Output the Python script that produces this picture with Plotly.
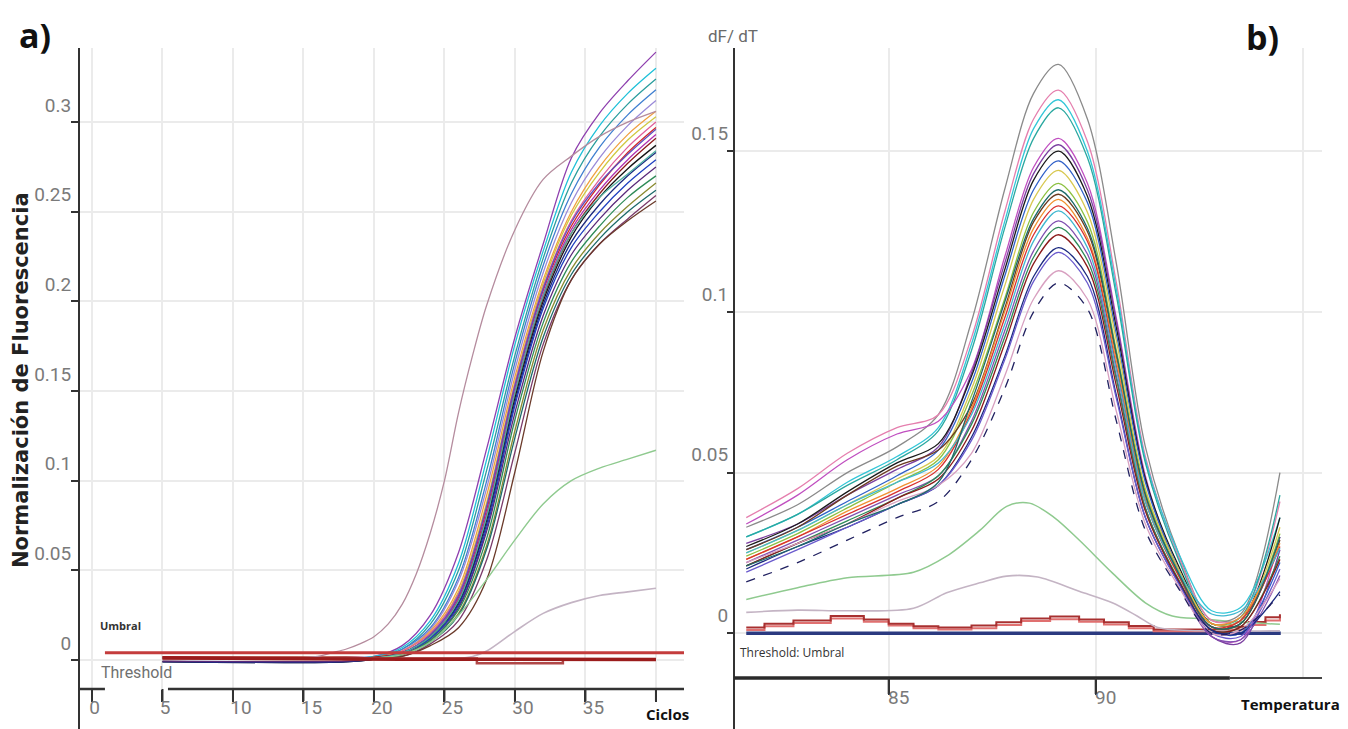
import plotly.graph_objects as go

# ---------------- Panel a) amplification curves ----------------
AMP_CYCLES = [5, 18, 20, 22, 24, 26, 28, 30, 32, 34, 36, 38, 40]
A01 = [0.0015, 0.0015, 0.002, 0.008, 0.025, 0.060, 0.118, 0.180, 0.232, 0.280, 0.305, 0.323, 0.339]
A02 = [0.0012, 0.0012, 0.002, 0.007, 0.022, 0.054, 0.112, 0.176, 0.228, 0.272, 0.298, 0.316, 0.330]
A03 = [0.0010, 0.0010, 0.0015, 0.006, 0.020, 0.050, 0.106, 0.170, 0.224, 0.266, 0.292, 0.310, 0.324]
A04 = [0.0012, 0.0012, 0.0015, 0.006, 0.018, 0.046, 0.100, 0.166, 0.220, 0.260, 0.286, 0.304, 0.318]
A05 = [0.0008, 0.0008, 0.001, 0.005, 0.017, 0.044, 0.096, 0.162, 0.216, 0.255, 0.280, 0.298, 0.312]
A06 = [0.0014, 0.0014, 0.0015, 0.005, 0.016, 0.040, 0.092, 0.158, 0.212, 0.250, 0.275, 0.293, 0.306]
A07 = [-0.0008, -0.0008, 0.0005, 0.005, 0.015, 0.038, 0.088, 0.155, 0.210, 0.248, 0.272, 0.290, 0.303]
A08 = [-0.0008, -0.0008, 0.0005, 0.005, 0.015, 0.037, 0.086, 0.154, 0.208, 0.245, 0.268, 0.286, 0.300]
A09 = [0.0015, 0.0015, 0.0015, 0.004, 0.014, 0.035, 0.084, 0.152, 0.206, 0.242, 0.265, 0.283, 0.297]
A10 = [0.0010, 0.0010, 0.001, 0.004, 0.014, 0.034, 0.082, 0.150, 0.204, 0.240, 0.262, 0.279, 0.293]
A11 = [0.0016, 0.0016, 0.0015, 0.004, 0.013, 0.033, 0.080, 0.148, 0.202, 0.238, 0.260, 0.277, 0.291]
A12 = [-0.0010, -0.0010, 0.0005, 0.004, 0.013, 0.032, 0.078, 0.146, 0.200, 0.236, 0.258, 0.274, 0.287]
A13 = [-0.0010, -0.0010, 0.0005, 0.004, 0.012, 0.031, 0.076, 0.144, 0.198, 0.233, 0.254, 0.270, 0.283]
A14 = [0.0010, 0.0010, 0.001, 0.003, 0.012, 0.030, 0.074, 0.142, 0.196, 0.230, 0.250, 0.266, 0.279]
A15 = [-0.0006, -0.0006, 0.0005, 0.003, 0.011, 0.029, 0.072, 0.138, 0.192, 0.226, 0.246, 0.262, 0.275]
A16 = [0.0012, 0.0012, 0.001, 0.003, 0.011, 0.028, 0.068, 0.134, 0.188, 0.222, 0.242, 0.258, 0.270]
A17 = [0.0010, 0.0010, 0.001, 0.003, 0.010, 0.026, 0.064, 0.128, 0.184, 0.218, 0.238, 0.253, 0.266]
A18 = [0.0012, 0.0012, 0.001, 0.003, 0.010, 0.025, 0.062, 0.124, 0.180, 0.215, 0.235, 0.250, 0.262]
A19 = [0.0010, 0.0010, 0.001, 0.002, 0.009, 0.022, 0.056, 0.116, 0.176, 0.212, 0.232, 0.246, 0.259]
A20 = [0.0012, 0.0012, 0.001, 0.002, 0.008, 0.018, 0.045, 0.105, 0.172, 0.212, 0.232, 0.245, 0.256]
A21 = [0.0010, 0.0010, 0.001, 0.004, 0.014, 0.036, 0.086, 0.153, 0.207, 0.244, 0.266, 0.282, 0.296]
A22 = [0.0010, 0.0010, 0.001, 0.004, 0.013, 0.033, 0.080, 0.149, 0.203, 0.238, 0.258, 0.271, 0.284]

EARLY_CYCLES = [5, 14, 16, 17, 18, 19, 20, 21, 22, 23, 24, 25, 26, 27, 28, 30, 32, 34, 36, 38, 40]
EARLY_VALUES = [0.001, 0.001, 0.002, 0.004, 0.006, 0.009, 0.013, 0.020, 0.031, 0.048, 0.071, 0.100, 0.138, 0.170, 0.198,
                0.240, 0.268, 0.281, 0.292, 0.300, 0.306]

LATE_GREEN_CYCLES = [5, 20, 22, 24, 26, 28, 30, 32, 34, 36, 38, 40]
LATE_GREEN_VALUES = [0.001, 0.001, 0.003, 0.010, 0.025, 0.045, 0.067, 0.087, 0.100, 0.107, 0.112, 0.117]

LATE_GRAY_CYCLES = [5, 26, 27, 28, 30, 32, 34, 36, 38, 40]
LATE_GRAY_VALUES = [0.001, 0.001, 0.002, 0.005, 0.016, 0.026, 0.032, 0.036, 0.038, 0.040]

NTC1_CYCLES = [5, 22, 40]
NTC1_VALUES = [0.0012, 0.0004, 0.0003]
NTC2_CYCLES = [5, 27.3, 33.4, 40]
NTC2_VALUES = [0.0008, -0.0018, 0.0002, 0.0002]

THRESHOLD_A = 0.004
THRESHOLD_A_CYCLES = [0.92, 41.99]

A_XTICKS = [0, 5, 10, 15, 20, 25, 30, 35, 40]
A_XTICKTEXT = ["0\u2007", "5\u2007", "10", "15", "20", "25", "30", "35", ""]
A_YTICKS = [0, 0.05, 0.1, 0.15, 0.2, 0.25, 0.3]
A_YTICKTEXT = ["0", "0.05", "0.1", "0.15", "0.2", "0.25", "0.3"]

# ---------------- Panel b) melt curves ----------------
MELT_TEMPS = [81.56, 82.8, 84.0, 85.2, 86.2, 87.0, 87.8, 88.5, 89.1, 89.8, 90.5, 91.2, 92.0, 92.8, 93.5, 94.45]
M01 = [0.033, 0.040, 0.050, 0.058, 0.068, 0.097, 0.138, 0.168, 0.177, 0.160, 0.115, 0.058, 0.025, 0.004, 0.006, 0.050]
M02 = [0.036, 0.045, 0.056, 0.064, 0.068, 0.092, 0.131, 0.160, 0.169, 0.153, 0.109, 0.055, 0.024, 0.004, 0.005, 0.041]
M03 = [0.030, 0.037, 0.047, 0.055, 0.064, 0.090, 0.128, 0.157, 0.166, 0.150, 0.107, 0.054, 0.025, 0.007, 0.008, 0.036]
M04 = [0.030, 0.037, 0.046, 0.054, 0.063, 0.088, 0.126, 0.154, 0.1635, 0.148, 0.105, 0.053, 0.023, 0.003, 0.005, 0.043]
M05 = [0.034, 0.043, 0.054, 0.062, 0.066, 0.082, 0.117, 0.145, 0.154, 0.140, 0.098, 0.049, 0.019, -0.001, -0.002, 0.030]
M06 = [0.028, 0.034, 0.043, 0.051, 0.058, 0.081, 0.115, 0.143, 0.152, 0.138, 0.097, 0.048, 0.019, -0.001, -0.003, 0.026]
M07 = [0.027, 0.034, 0.044, 0.053, 0.059, 0.080, 0.113, 0.141, 0.150, 0.136, 0.095, 0.048, 0.021, 0.003, 0.004, 0.036]
M08 = [0.026, 0.033, 0.041, 0.049, 0.057, 0.078, 0.111, 0.138, 0.147, 0.134, 0.093, 0.047, 0.020, 0.001, 0.000, 0.022]
M09 = [0.025, 0.032, 0.040, 0.048, 0.055, 0.076, 0.108, 0.135, 0.144, 0.131, 0.091, 0.045, 0.020, 0.003, 0.004, 0.033]
M10 = [0.024, 0.031, 0.039, 0.047, 0.054, 0.074, 0.104, 0.131, 0.140, 0.128, 0.088, 0.044, 0.019, 0.002, 0.003, 0.031]
M11 = [0.026, 0.033, 0.043, 0.052, 0.057, 0.071, 0.101, 0.128, 0.1366, 0.125, 0.086, 0.043, 0.0185, 0.002, 0.003, 0.029]
M12 = [0.023, 0.030, 0.038, 0.045, 0.052, 0.070, 0.100, 0.126, 0.135, 0.123, 0.085, 0.042, 0.018, 0.003, 0.005, 0.028]
M13 = [0.023, 0.030, 0.037, 0.044, 0.051, 0.069, 0.098, 0.124, 0.133, 0.122, 0.083, 0.041, 0.018, 0.002, 0.004, 0.027]
M14 = [0.025, 0.032, 0.040, 0.047, 0.053, 0.068, 0.096, 0.122, 0.1314, 0.120, 0.082, 0.041, 0.019, 0.006, 0.007, 0.0265]
M15 = [0.022, 0.029, 0.036, 0.043, 0.049, 0.066, 0.094, 0.119, 0.1283, 0.118, 0.080, 0.039, 0.016, -0.001, -0.002, 0.018]
M16 = [0.021, 0.028, 0.035, 0.042, 0.049, 0.065, 0.092, 0.117, 0.1263, 0.116, 0.079, 0.039, 0.0168, 0.001, 0.002, 0.024]
M17 = [0.021, 0.028, 0.034, 0.042, 0.048, 0.063, 0.090, 0.115, 0.124, 0.114, 0.077, 0.038, 0.0164, 0.001, 0.002, 0.023]
M18 = [0.020, 0.027, 0.033, 0.040, 0.046, 0.061, 0.086, 0.111, 0.120, 0.111, 0.074, 0.036, 0.0158, 0.001, 0.000, 0.013]
M19 = [0.019, 0.026, 0.033, 0.040, 0.046, 0.060, 0.085, 0.1095, 0.1185, 0.109, 0.073, 0.036, 0.0155, 0.000, -0.001, 0.020]
M20 = [0.022, 0.028, 0.034, 0.041, 0.046, 0.056, 0.080, 0.104, 0.1128, 0.104, 0.069, 0.034, 0.0146, 0.000, 0.001, 0.017]
M21 = [0.016, 0.022, 0.029, 0.036, 0.041, 0.054, 0.076, 0.100, 0.109, 0.101, 0.066, 0.032, 0.014, 0.000, 0.001, 0.012]
M22 = [0.021, 0.027, 0.034, 0.040, 0.047, 0.072, 0.103, 0.129, 0.138, 0.126, 0.087, 0.043, 0.0187, 0.002, 0.003, 0.030]

MELT_GREEN_TEMPS = [81.56, 82.8, 84.0, 85.6, 86.4, 87.2, 87.85, 88.4, 89.0, 89.6, 90.4, 91.2, 91.85, 92.6, 93.5, 94.45]
MELT_GREEN_VALUES = [0.0105, 0.0142, 0.0173, 0.019, 0.024, 0.032, 0.0395, 0.0405, 0.036, 0.029, 0.0188, 0.0095,
                     0.0054, 0.0045, 0.0035, 0.0028]

MELT_GRAY_TEMPS = [81.56, 82.8, 84.0, 85.6, 86.4, 87.2, 87.85, 88.6, 89.6, 90.4, 91.0, 91.5, 92.5, 94.45]
MELT_GRAY_VALUES = [0.0065, 0.0072, 0.0070, 0.0078, 0.0126, 0.0157, 0.0178, 0.0175, 0.0131, 0.0095, 0.0054,
                    0.0018, 0.0008, 0.0008]

MELT_NTC_TEMPS = [81.56, 82.0, 82.7, 83.6, 84.4, 85.0, 85.6, 86.2, 87.0, 87.6, 88.2, 88.9, 89.6, 90.2, 90.8,
                  91.4, 93.2, 93.7, 94.1, 94.45]
MELT_NTC1_VALUES = [0.0018, 0.0030, 0.0040, 0.0054, 0.0043, 0.0030, 0.0022, 0.0018, 0.0024, 0.0034, 0.0046,
                    0.0052, 0.0043, 0.0034, 0.0023, 0.0012, 0.0020, 0.0035, 0.0050, 0.0059]
MELT_NTC2_VALUES = [0.0010, 0.0022, 0.0032, 0.0046, 0.0036, 0.0024, 0.0016, 0.0012, 0.0016, 0.0026, 0.0038,
                    0.0044, 0.0036, 0.0027, 0.0016, 0.0006, 0.0012, 0.0026, 0.0040, 0.0048]

THRESHOLD_B = 0.0
THRESHOLD_B_TEMPS = [81.56, 94.47]

B_XTICKS = [85, 90]
B_XTICKTEXT = ["85", "90"]
B_YTICKS = [0, 0.05, 0.1, 0.15]
B_YTICKTEXT = ["0", "0.05", "0.1", "0.15"]

# ---------------- styles ----------------
AMP_SAMPLES = [A01, A02, A03, A04, A05, A06, A07, A08, A09, A10, A11,
               A12, A13, A14, A15, A16, A17, A18, A19, A20, A21, A22]
AMP_COLORS = ["#8e3fae", "#1ec0d8", "#2a9d9d", "#3f7fd0", "#9a8ad8", "#f0a040", "#d0c840", "#e0609a",
              "#d02828", "#b030b0", "#8b1a1a", "#151515", "#1c2a80", "#2040c0", "#5a2a7a", "#2e8b57",
              "#8a8a30", "#1d6a6a", "#7a3a6a", "#6b3a2a", "#6050c0", "#50b0a0"]
MELT_SAMPLES = [M01, M02, M03, M04, M05, M06, M07, M08, M09, M10, M11,
                M12, M13, M14, M15, M16, M17, M18, M19, M20, M21, M22]
MELT_COLORS = ["#8a8a8a", "#e57fae", "#33c6d8", "#2aa8a0", "#c04fc0", "#7b3fa0", "#1a1a1a", "#3060c8",
               "#d8c850", "#8cc040", "#6b3a20", "#f09030", "#d83030", "#40b8d0", "#8050b0", "#2e8b57",
               "#8b1a1a", "#1c2a80", "#6a5acd", "#d8a0c0", "#202060", "#1d6a6a"]
MELT_DASH = ["solid"] * 20 + ["dash", "solid"]

NARROW = "Roboto, Liberation Sans, sans-serif"
LABEL_FONT = "Open Sans, Noto Sans, Liberation Sans, sans-serif"
GRID = "#ebebeb"
AXIS = "#333333"

fig = go.Figure()

# panel a traces
for vals, col in zip(AMP_SAMPLES, AMP_COLORS):
    fig.add_trace(go.Scatter(x=AMP_CYCLES, y=vals, mode="lines", xaxis="x", yaxis="y",
                             line=dict(color=col, width=1.3, shape="spline", smoothing=0.9),
                             hoverinfo="skip", showlegend=False))
fig.add_trace(go.Scatter(x=EARLY_CYCLES, y=EARLY_VALUES, mode="lines", xaxis="x", yaxis="y",
                         line=dict(color="#b58c9e", width=1.3, shape="spline", smoothing=0.9),
                         hoverinfo="skip", showlegend=False))
fig.add_trace(go.Scatter(x=LATE_GREEN_CYCLES, y=LATE_GREEN_VALUES, mode="lines", xaxis="x", yaxis="y",
                         line=dict(color="#8fca8f", width=1.4, shape="spline", smoothing=0.9),
                         hoverinfo="skip", showlegend=False))
fig.add_trace(go.Scatter(x=LATE_GRAY_CYCLES, y=LATE_GRAY_VALUES, mode="lines", xaxis="x", yaxis="y",
                         line=dict(color="#c4b4c4", width=1.6, shape="spline", smoothing=0.9),
                         hoverinfo="skip", showlegend=False))
fig.add_trace(go.Scatter(x=NTC2_CYCLES, y=NTC2_VALUES, mode="lines", xaxis="x", yaxis="y",
                         line=dict(color="#b04848", width=2.5, shape="hv"), hoverinfo="skip", showlegend=False))
fig.add_trace(go.Scatter(x=NTC1_CYCLES, y=NTC1_VALUES, mode="lines", xaxis="x", yaxis="y",
                         line=dict(color="#9b1c1c", width=3.5), hoverinfo="skip", showlegend=False))
fig.add_trace(go.Scatter(x=THRESHOLD_A_CYCLES, y=[THRESHOLD_A] * len(THRESHOLD_A_CYCLES), mode="lines",
                         xaxis="x", yaxis="y", line=dict(color="#c43c3c", width=3),
                         hoverinfo="skip", showlegend=False))

# panel b traces
fig.add_trace(go.Scatter(x=THRESHOLD_B_TEMPS, y=[THRESHOLD_B] * len(THRESHOLD_B_TEMPS), mode="lines",
                         xaxis="x2", yaxis="y2", line=dict(color="#2b3a80", width=3.5),
                         hoverinfo="skip", showlegend=False))
fig.add_trace(go.Scatter(x=MELT_NTC_TEMPS, y=MELT_NTC2_VALUES, mode="lines", xaxis="x2", yaxis="y2",
                         line=dict(color="#e07070", width=2, shape="hv"), hoverinfo="skip", showlegend=False))
fig.add_trace(go.Scatter(x=MELT_NTC_TEMPS, y=MELT_NTC1_VALUES, mode="lines", xaxis="x2", yaxis="y2",
                         line=dict(color="#a83030", width=2, shape="hv"), hoverinfo="skip", showlegend=False))
fig.add_trace(go.Scatter(x=MELT_GRAY_TEMPS, y=MELT_GRAY_VALUES, mode="lines", xaxis="x2", yaxis="y2",
                         line=dict(color="#c4b4c4", width=1.6, shape="spline", smoothing=0.9),
                         hoverinfo="skip", showlegend=False))
fig.add_trace(go.Scatter(x=MELT_GREEN_TEMPS, y=MELT_GREEN_VALUES, mode="lines", xaxis="x2", yaxis="y2",
                         line=dict(color="#8fca8f", width=1.5, shape="spline", smoothing=0.9),
                         hoverinfo="skip", showlegend=False))
for vals, col, dsh in zip(MELT_SAMPLES, MELT_COLORS, MELT_DASH):
    fig.add_trace(go.Scatter(x=MELT_TEMPS, y=vals, mode="lines", xaxis="x2", yaxis="y2",
                             line=dict(color=col, width=1.3, shape="spline", smoothing=0.9, dash=dsh),
                             hoverinfo="skip", showlegend=False))

W, H = 1348, 729
A_LEFT, A_RIGHT, A_BOTTOM, TOP = 79, 684, 689, 48
B_LEFT, B_RIGHT, B_BOTTOM = 734, 1322, 678

tickfont = dict(family=NARROW, size=19, color="#7a7a7a")

fig.update_layout(
    width=W, height=H, margin=dict(l=0, r=0, t=0, b=0),
    paper_bgcolor="white", plot_bgcolor="white", showlegend=False,
    xaxis=dict(domain=[A_LEFT / W, A_RIGHT / W], range=[-0.92, 41.99], anchor="y",
               tickmode="array", tickvals=A_XTICKS, ticktext=A_XTICKTEXT,
               ticks="outside", ticklen=12, tickwidth=2, tickcolor=AXIS,
               showgrid=True, gridcolor=GRID, gridwidth=2, zeroline=False, showline=False,
               tickfont=tickfont, ticklabelshift=8, ticklabelstandoff=-11),
    yaxis=dict(domain=[1 - A_BOTTOM / H, 1 - TOP / H], range=[-0.01617, 0.3413], anchor="x",
               tickmode="array", tickvals=A_YTICKS, ticktext=A_YTICKTEXT,
               ticks="outside", ticklen=7, tickwidth=2, tickcolor=AXIS,
               showgrid=True, gridcolor=GRID, gridwidth=2, zeroline=False, showline=False,
               tickfont=tickfont, ticklabelshift=-17, ticklabelstandoff=-4),
    xaxis2=dict(domain=[B_LEFT / W, B_RIGHT / W], range=[81.264, 95.466], anchor="y2",
                tickmode="array", tickvals=B_XTICKS, ticktext=B_XTICKTEXT,
                ticks="outside", ticklen=16, tickwidth=2, tickcolor=AXIS,
                showgrid=True, gridcolor=GRID, gridwidth=2, zeroline=False, showline=False,
                minor=dict(tickvals=[95], showgrid=True, gridcolor=GRID, gridwidth=2, ticks=""),
                tickfont=tickfont, ticklabelshift=10, ticklabelstandoff=-14),
    yaxis2=dict(domain=[1 - B_BOTTOM / H, 1 - TOP / H], range=[-0.01391, 0.1821], anchor="x2",
                tickmode="array", tickvals=B_YTICKS, ticktext=B_YTICKTEXT,
                ticks="outside", ticklen=6, tickwidth=2, tickcolor=AXIS,
                showgrid=True, gridcolor=GRID, gridwidth=2, zeroline=False, showline=False,
                tickfont=tickfont, ticklabelshift=-18, ticklabelstandoff=-5),
)

shapes = [
    dict(type="line", xref="paper", yref="paper", x0=A_LEFT / W, x1=A_LEFT / W, y0=0, y1=1 - TOP / H,
         line=dict(color=AXIS, width=2)),
    dict(type="line", xref="paper", yref="paper", x0=B_LEFT / W, x1=B_LEFT / W, y0=0, y1=1 - TOP / H,
         line=dict(color=AXIS, width=2)),
    dict(type="line", xref="x", yref="y domain", x0=-0.92, x1=0.92, y0=0, y1=0,
         line=dict(color=AXIS, width=2.5)),
    dict(type="line", xref="x", yref="y domain", x0=5.39, x1=41.99, y0=0, y1=0,
         line=dict(color=AXIS, width=2.5)),
    dict(type="line", xref="x2", yref="y2 domain", x0=81.264, x1=93.24, y0=0, y1=0,
         line=dict(color="#2a2a2a", width=3.5)),
    dict(type="line", xref="x2", yref="y2 domain", x0=93.24, x1=95.466, y0=0, y1=0,
         line=dict(color="#444444", width=2)),
]
# explicit downward tick marks on both x axes (placed at the axes' own tick values)
for tv in A_XTICKS:
    shapes.append(dict(type="line", xref="x", yref="y domain", x0=tv, x1=tv,
                       y0=0, y1=-12 / (A_BOTTOM - TOP), line=dict(color=AXIS, width=2)))
for tv in B_XTICKS:
    shapes.append(dict(type="line", xref="x2", yref="y2 domain", x0=tv, x1=tv,
                       y0=0, y1=-16 / (B_BOTTOM - TOP), line=dict(color=AXIS, width=2)))
fig.update_layout(shapes=shapes)

def px(x, y):
    return x / W, 1 - y / H

annos = []
def add(text, x, y, size, color, family, bold=False, angle=0, **kw):
    ax, ay = px(x, y)
    t = f"<b>{text}</b>" if bold else text
    annos.append(dict(text=t, x=ax, y=ay, xref="paper", yref="paper", showarrow=False,
                      xanchor="center", yanchor="middle", textangle=angle,
                      font=dict(size=size, color=color, family=family), **kw))

add("a)", 35, 35, 34, "#111111", LABEL_FONT, bold=True)
add("b)", 1262, 37, 34, "#111111", LABEL_FONT, bold=True)
add("dF/ dT", 733, 36, 17, "#6a6a6a", NARROW)
add("Normalización de Fluorescencia", 21, 380, 21, "#222222", "DejaVu Sans, Verdana, sans-serif",
    bold=True, angle=-90)
add("Umbral", 120, 625, 11, "#333333", LABEL_FONT, bold=True)
add("Threshold", 136, 672, 16, "#707070", NARROW)
add("Ciclos", 667, 714, 15, "#111111", LABEL_FONT, bold=True)
add("Temperatura", 1290, 704, 15, "#111111", LABEL_FONT, bold=True)
add("Threshold: Umbral", 792, 652, 12, "#333333", LABEL_FONT)
fig.update_layout(annotations=annos)

fig.write_html("out.html")
